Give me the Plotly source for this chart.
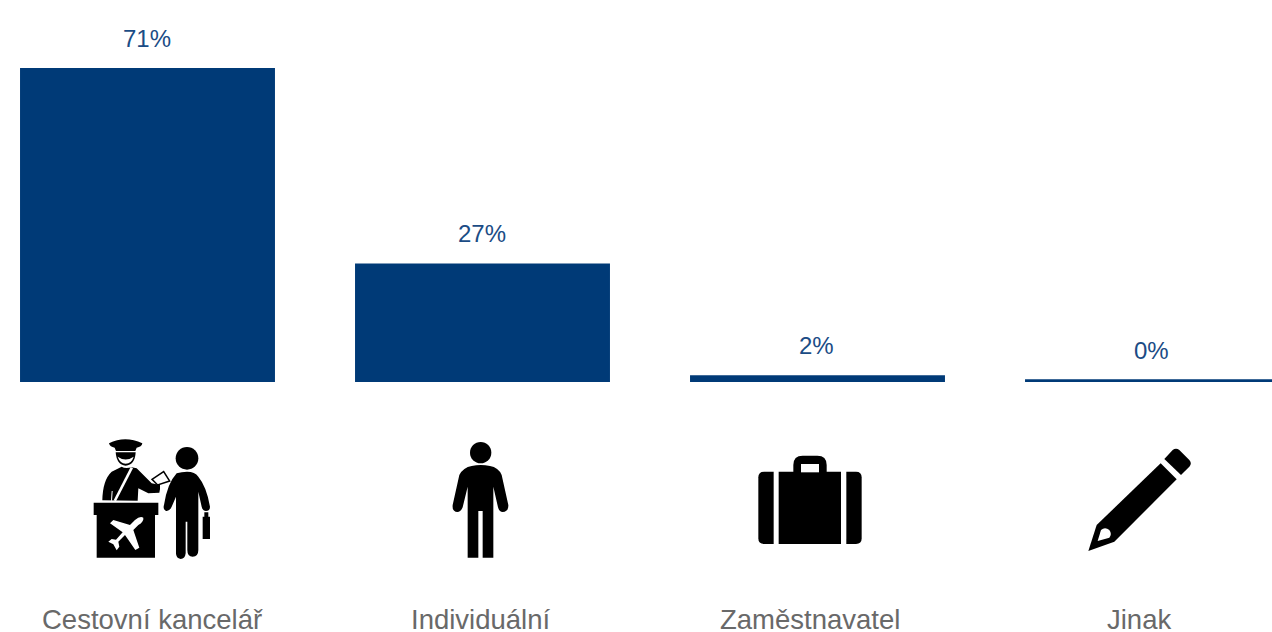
import re
import plotly.graph_objects as go

categories = ["Cestovní kancelář", "Individuální", "Zaměstnavatel", "Jinak"]
values = [71, 26.8, 1.5, 0.6]
value_labels = ["71%", "27%", "2%", "0%"]

BAR = "#003A77"
LABEL = "#1B4C85"
AXIS_TEXT = "#696969"
FONT = "Liberation Sans, Arial, sans-serif"
W, H = 1272, 632
BASE = 382  # pixel row of the value axis baseline


def px(x, y):
    return x / W, (BASE - y) / BASE


def path(d, ox, oy, k=1 / 3):
    """Map a pictogram outline drawn in local units onto the page."""
    toks = re.findall(r"[A-Za-z]|-?\d+\.?\d*", d)
    out, nums = [], []

    def flush():
        for i in range(0, len(nums), 2):
            X, Y = px(ox + nums[i] * k, oy + nums[i + 1] * k)
            out.append(f"{X:.5f},{Y:.5f}")
        nums.clear()

    for t in toks:
        if t.isalpha():
            flush()
            out.append(t)
        else:
            nums.append(float(t))
    flush()
    return " ".join(out)


def blob(d, ox, oy, color="black", lw=0, lc="black"):
    return dict(type="path", xref="paper", yref="paper", path=path(d, ox, oy),
                fillcolor=color, line=dict(width=lw, color=lc), layer="above")


def disc(cx, cy, r, ox, oy):
    x0, y0 = px(ox + (cx - r) / 3, oy + (cy - r) / 3)
    x1, y1 = px(ox + (cx + r) / 3, oy + (cy + r) / 3)
    return dict(type="circle", xref="paper", yref="paper", x0=x0, y0=y0, x1=x1, y1=y1,
                fillcolor="black", line=dict(width=0), layer="above")


# Icon 1: travel agent at the desk, with a traveller
o1 = (70, 425)
agent = [
    blob("M117,55 Q165,30 217,55 Q215,66 200,68 L196,78 L138,78 L134,68 Q120,66 117,55 Z", *o1),
    blob("M137,82 L197,82 Q195,120 167,122 Q140,120 137,82 Z", *o1),
    blob("M143,95 Q167,112 191,95 Q185,115 167,116 Q150,115 143,95 Z", *o1, color="white"),
    blob("M97,226 Q98,165 125,140 L155,125 Q165,132 185,127 L200,130 L245,175 L270,180 "
         "L270,192 L268,203 L235,205 L205,190 L203,227 Z", *o1),
    blob("M182,126 L189,130 L138,229 L131,226 Z", *o1, color="white"),
    blob("M125,198 L128,198 L126,227 L123,227 Z", *o1, color="white"),
    blob("M246,163 L281,140 L299,168 L263,180 Z", *o1, color="white", lw=1.5),
    blob("M71,233 L265,233 L265,270 L255,270 L255,398 L80,398 L80,270 L71,270 Z", *o1),
    blob("M220,278 Q222,290 205,300 L190,315 L208,368 L196,375 L165,330 L145,350 L148,365 "
         "L140,376 L130,358 L115,350 L125,342 L138,344 L158,322 L120,295 L130,285 L180,300 "
         "L195,285 Q210,272 220,278 Z", *o1, color="white"),
    disc(351, 100, 34, *o1),
    blob("M320,145 Q335,140 351,140 Q375,140 385,155 Q410,185 420,245 Q420,258 408,258 "
         "Q398,258 395,245 L385,200 L385,375 Q385,395 368,395 Q352,395 352,375 L352,290 "
         "L347,290 L347,385 Q345,402 332,402 Q318,400 318,385 L318,215 L305,245 "
         "Q298,260 288,258 Q278,252 282,240 Q292,175 320,145 Z", *o1),
    blob("M398,275 L403,275 L403,262 L415,262 L415,275 L420,275 L420,342 L398,342 Z", *o1),
]

# Icon 2: person
o2 = (430, 430)
person = [
    disc(152, 68, 32, *o2),
    blob("M88,135 Q100,112 125,108 Q152,102 180,108 Q205,112 215,135 L235,225 Q236,245 218,246 "
         "Q208,246 204,232 L190,170 L190,383 L158,383 L158,243 L145,243 L145,383 L113,383 "
         "L113,170 L98,232 Q92,246 82,246 Q66,245 68,225 Z", *o2),
]

# Icon 3: briefcase
o3 = (740, 440)
case = [
    blob("M72,95 L101,95 L101,312 L72,312 Q55,312 55,295 L55,112 Q55,95 72,95 Z", *o3),
    blob("M319,95 L348,95 Q365,95 365,112 L365,295 Q365,312 348,312 L319,312 Z", *o3),
    blob("M116,95 L160,95 L160,75 Q160,47 188,47 L232,47 Q260,47 260,75 L260,95 L303,95 "
         "L303,312 L116,312 Z", *o3),
    blob("M183,72 L237,72 L237,97 L183,97 Z", *o3, color="white"),
]

# Icon 4: pencil
o4 = (1075, 435)
pencil = [
    blob("M268,72 L293,45 Q303,37 313,45 L343,75 Q352,85 343,95 L318,120 Z", *o4),
    blob("M257,85 L305,133 L118,320 L40,348 L65,270 Z", *o4),
    blob("M68,318 L78,285 Q90,275 103,285 Q112,297 103,308 Z", *o4, color="white"),
]

fig = go.Figure(go.Bar(x=categories, y=values, marker=dict(color=BAR, line=dict(width=0)),
                       width=0.761, hoverinfo="skip"))

offsets = [30, 30, 30, 29]
annotations = [
    dict(x=c, y=v, text=t, showarrow=False, yanchor="middle", yshift=s, xshift=-0.7,
         font=dict(family=FONT, size=24, color=LABEL))
    for c, v, t, s in zip(categories, values, value_labels, offsets)
]
# Category captions sit slightly off the bar centres, as in the reference
caption_shift = [4.5, -2, -8, -14]
annotations += [
    dict(x=c, y=(BASE - 619) / BASE, yref="paper", text=c, showarrow=False, yanchor="middle",
         xshift=s, font=dict(family=FONT, size=27.5, color=AXIS_TEXT))
    for c, s in zip(categories, caption_shift)
]

fig.update_layout(
    width=W, height=H, autosize=False,
    margin=dict(l=0, r=0, t=0, b=H - BASE, pad=0),
    paper_bgcolor="white", plot_bgcolor="white",
    showlegend=False, annotations=annotations,
    shapes=agent + person + case + pencil,
    xaxis=dict(type="category", range=[-147.5 / 335, (W - 147.5) / 335],
               showgrid=False, zeroline=False, showline=False, ticks="",
               showticklabels=False, automargin=False, fixedrange=True),
    yaxis=dict(range=[0, BASE / (314 / 71)], visible=False, fixedrange=True),
)

fig.write_html("out.html", config=dict(displayModeBar=False),
               post_script="document.body.style.margin='0';document.documentElement.style.overflow='hidden';")
